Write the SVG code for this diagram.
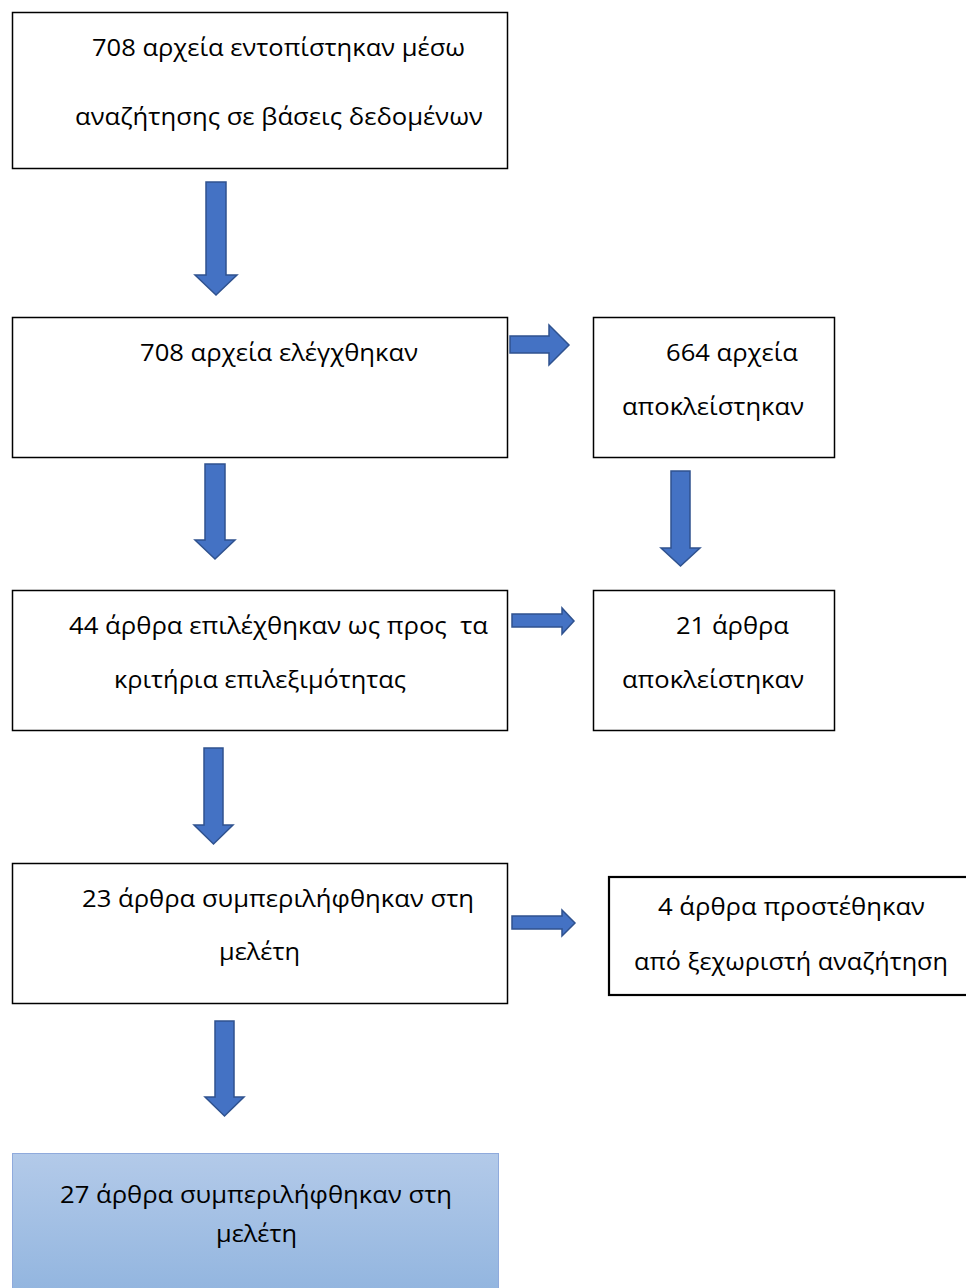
<svg xmlns="http://www.w3.org/2000/svg" width="966" height="1288" viewBox="0 0 966 1288">
<defs>
<linearGradient id="g" x1="0" y1="0" x2="0" y2="1">
<stop offset="0" stop-color="#B3CAE9"/>
<stop offset="1" stop-color="#92B5DF"/>
</linearGradient>
<style>
.box{fill:#fff;stroke:#000;stroke-width:1.5}
.t{font-family:"Open Sans","Noto Sans","DejaVu Sans",sans-serif;font-size:23px;fill:#000}
.arr{fill:#4472C4;stroke:#2F528F;stroke-width:1.5;stroke-linejoin:miter}
</style>
</defs>
<rect width="966" height="1288" fill="#fff"/>
<g id="n1">
<rect class="box" x="12.5" y="12.5" width="495" height="156"/>
<text class="t" x="92" y="56" textLength="373" lengthAdjust="spacingAndGlyphs">708 αρχεία εντοπίστηκαν μέσω</text>
<text class="t" x="75" y="125" textLength="408" lengthAdjust="spacingAndGlyphs">αναζήτησης σε βάσεις δεδομένων</text>
</g>
<g id="n2">
<rect class="box" x="12.5" y="317.5" width="495" height="140"/>
<text class="t" x="140" y="361" textLength="278" lengthAdjust="spacingAndGlyphs">708 αρχεία ελέγχθηκαν</text>
</g>
<g id="n3">
<rect class="box" x="593.5" y="317.5" width="241" height="140"/>
<text class="t" x="666" y="361" textLength="132" lengthAdjust="spacingAndGlyphs">664 αρχεία</text>
<text class="t" x="622" y="415" textLength="182" lengthAdjust="spacingAndGlyphs">αποκλείστηκαν</text>
</g>
<g id="n4">
<rect class="box" x="12.5" y="590.5" width="495" height="140"/>
<text class="t" x="69" y="634" textLength="419" lengthAdjust="spacingAndGlyphs" xml:space="preserve">44 άρθρα επιλέχθηκαν ως προς  τα</text>
<text class="t" x="114" y="688" textLength="292" lengthAdjust="spacingAndGlyphs">κριτήρια επιλεξιμότητας</text>
</g>
<g id="n5">
<rect class="box" x="593.5" y="590.5" width="241" height="140"/>
<text class="t" x="676" y="634" textLength="113" lengthAdjust="spacingAndGlyphs">21 άρθρα</text>
<text class="t" x="622" y="688" textLength="182" lengthAdjust="spacingAndGlyphs">αποκλείστηκαν</text>
</g>
<g id="n6">
<rect class="box" x="12.5" y="863.5" width="495" height="140"/>
<text class="t" x="82" y="907" textLength="392" lengthAdjust="spacingAndGlyphs">23 άρθρα συμπεριλήφθηκαν στη</text>
<text class="t" x="219" y="960" textLength="81" lengthAdjust="spacingAndGlyphs">μελέτη</text>
</g>
<g id="n7">
<rect x="609" y="877" width="360" height="118" fill="#fff" stroke="#000" stroke-width="2.2"/>
<text class="t" x="658" y="915" textLength="267" lengthAdjust="spacingAndGlyphs">4 άρθρα προστέθηκαν</text>
<text class="t" x="634" y="970" textLength="314" lengthAdjust="spacingAndGlyphs">από ξεχωριστή αναζήτηση</text>
</g>
<g id="n8">
<rect x="12.5" y="1153.5" width="486" height="140" fill="url(#g)" stroke="#8FAADC" stroke-width="1"/>
<text class="t" x="60" y="1203" textLength="392" lengthAdjust="spacingAndGlyphs">27 άρθρα συμπεριλήφθηκαν στη</text>
<text class="t" x="216" y="1242" textLength="81" lengthAdjust="spacingAndGlyphs">μελέτη</text>
</g>
<g id="connectors">
<polygon class="arr" points="206,182 226,182 226,275 237,275 216,295 195,275 206,275"/>
<polygon class="arr" points="205,464 225,464 225,540 235,540 215,559 195,540 205,540"/>
<polygon class="arr" points="204,748 223,748 223,825 233,825 213.5,844 194,825 204,825"/>
<polygon class="arr" points="215,1021 234,1021 234,1097 244,1097 224.5,1116 205,1097 215,1097"/>
<polygon class="arr" points="671,471 690,471 690,548 700,548 680.5,566 661,548 671,548"/>
<polygon class="arr" points="510,336 549,336 549,325 569,345 549,365 549,353 510,353"/>
<polygon class="arr" points="512,614 562,614 562,608 574,621 562,634 562,627 512,627"/>
<polygon class="arr" points="512,916 562,916 562,910 575,923 562,936 562,929 512,929"/>
</g>
</svg>
